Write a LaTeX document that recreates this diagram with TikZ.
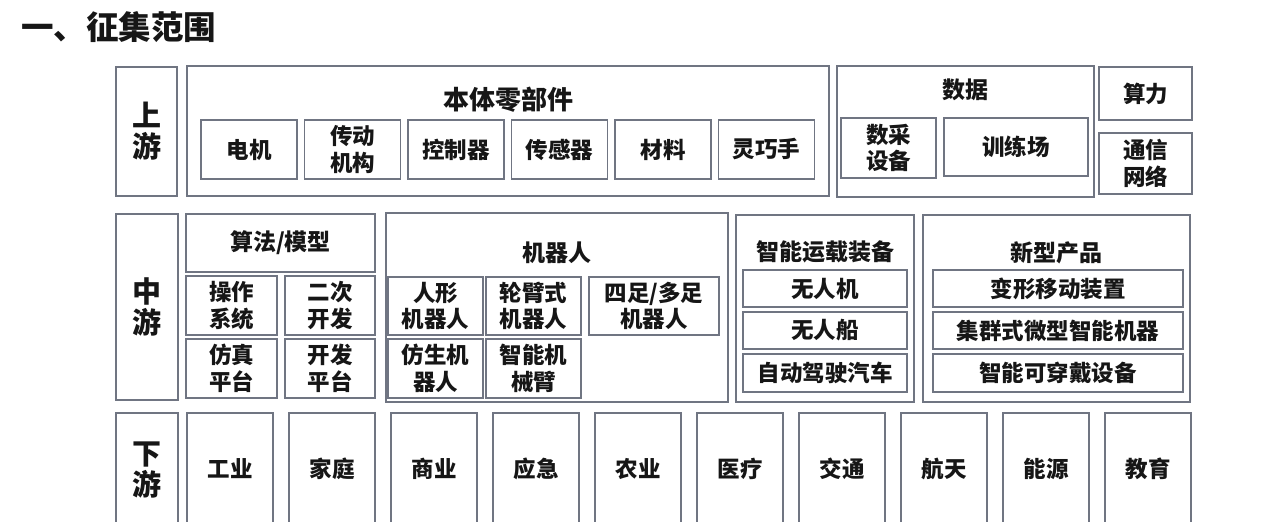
\documentclass[tikz,border=0pt]{standalone}
\usepackage{fontspec}
\setmainfont{Noto Sans CJK SC}
\definecolor{boxline}{RGB}{112,117,130}
\definecolor{inkblack}{RGB}{22,22,22}

\begin{document}
\begin{tikzpicture}[x=1pt,y=-1pt,
    cell/.style={draw=boxline,line width=1.2pt},
    txt/.style={font=\fontsize{22.5}{26.5}\selectfont\bfseries,text=inkblack,align=center,inner sep=0pt},
    head/.style={txt,font=\fontsize{23}{27}\selectfont\bfseries},
    tier/.style={txt,font=\fontsize{29}{31}\selectfont\bfseries}]
\useasboundingbox (0,0) rectangle (1270,522);
\clip (0,0) rectangle (1270,522);
\node[anchor=west,inner sep=0pt,font=\fontsize{32.5}{33}\selectfont\bfseries,text=inkblack] (title) at (21,27) {一、征集范围};

% upstream
\path[cell] (116,67) rectangle (177,196) node[pos=0.5,tier] (up) {上\\游};
\path[cell] (187,66) rectangle (829,196);
\node[head,font=\fontsize{26}{28}\selectfont\bfseries] (bodyparts) at (508,100) {本体零部件};
\path[cell,every node/.style={txt}]
    (201,120) rectangle +(96,59) node[pos=0.5] (motor) {电机}
    ++(103.5,0) rectangle +(96,59) node[pos=0.5] (drive) {传动\\机构}
    ++(103.5,0) rectangle +(96,59) node[pos=0.5] (ctrl) {控制器}
    ++(103.5,0) rectangle +(96,59) node[pos=0.5] (sensor) {传感器}
    ++(103.5,0) rectangle +(96,59) node[pos=0.5] (material) {材料}
    ++(103.5,0) rectangle +(96,59) node[pos=0.5] (hand) {灵巧手};
\path[cell] (837,66) rectangle (1094,197);
\node[head] (data) at (965,90) {数据};
\path[cell] (841,118) rectangle (936,178) node[pos=0.5,txt] (collect) {数采\\设备};
\path[cell] (944,118) rectangle (1088,176) node[pos=0.5,txt] (field) {训练场};
\path[cell] (1099,67) rectangle (1192,120) node[pos=0.5,txt] (compute) {算力};
\path[cell] (1099,133) rectangle (1192,194) node[pos=0.5,txt] (network) {通信\\网络};

% midstream
\path[cell] (116,214) rectangle (178,400) node[pos=0.5,tier] (mid) {中\\游};
\path[cell] (186,214) rectangle (375,272) node[pos=0.5,head] (algo) {算法/模型};
\path[cell,every node/.style={txt}]
    (186,276) rectangle +(91,59) node[pos=0.5] (os) {操作\\系统}
    ++(99,0) rectangle +(90,59) node[pos=0.5] (sdk) {二次\\开发}
    (186,339) rectangle +(91,59) node[pos=0.5] (sim) {仿真\\平台}
    ++(99,0) rectangle +(90,59) node[pos=0.5] (devplat) {开发\\平台};
\path[cell] (386,213) rectangle (728,402);
\node[head] (robot) at (557,253) {机器人};
\path[cell,every node/.style={txt}]
    (388,277) rectangle +(95,58) node[pos=0.5] (humanoid) {人形\\机器人}
    ++(98,0) rectangle +(95,58) node[pos=0.5] (wheelarm) {轮臂式\\机器人}
    ++(103,0) rectangle +(130,58) node[pos=0.5] (legged) {四足/多足\\机器人}
    (388,339) rectangle +(95,59) node[pos=0.5] (bionic) {仿生机\\器人}
    ++(98,0) rectangle +(95,59) node[pos=0.5] (arm) {智能机\\械臂};
\path[cell] (736,215) rectangle (914,402);
\node[head] (carrier) at (825,252) {智能运载装备};
\path[cell,every node/.style={txt}]
    (743,270) rectangle +(164,37) node[pos=0.5] (drone) {无人机}
    ++(0,42) rectangle +(164,37) node[pos=0.5] (boat) {无人船}
    ++(0,42) rectangle +(164,38) node[pos=0.5] (car) {自动驾驶汽车};
\path[cell] (923,215) rectangle (1190,402);
\node[head] (newprod) at (1056,253) {新型产品};
\path[cell,every node/.style={txt}]
    (933,270) rectangle +(250,37) node[pos=0.5] (morph) {变形移动装置}
    ++(0,42) rectangle +(250,37) node[pos=0.5] (swarm) {集群式微型智能机器}
    ++(0,42) rectangle +(250,38) node[pos=0.5] (wear) {智能可穿戴设备};

% downstream
\path[cell] (116,413) rectangle (178,527) node[pos=0.5,tier] (down) {下\\游};
\path[cell,every node/.style={txt}]
    (187,413) rectangle +(86,112) node[pos=0.5] (industry) {工业}
    ++(102,0) rectangle +(86,112) node[pos=0.5] (home) {家庭}
    ++(102,0) rectangle +(86,112) node[pos=0.5] (commerce) {商业}
    ++(102,0) rectangle +(86,112) node[pos=0.5] (rescue) {应急}
    ++(102,0) rectangle +(86,112) node[pos=0.5] (farm) {农业}
    ++(102,0) rectangle +(86,112) node[pos=0.5] (medical) {医疗}
    ++(102,0) rectangle +(86,112) node[pos=0.5] (traffic) {交通}
    ++(102,0) rectangle +(86,112) node[pos=0.5] (space) {航天}
    ++(102,0) rectangle +(86,112) node[pos=0.5] (energy) {能源}
    ++(102,0) rectangle +(86,112) node[pos=0.5] (edu) {教育};
\end{tikzpicture}
\end{document}
